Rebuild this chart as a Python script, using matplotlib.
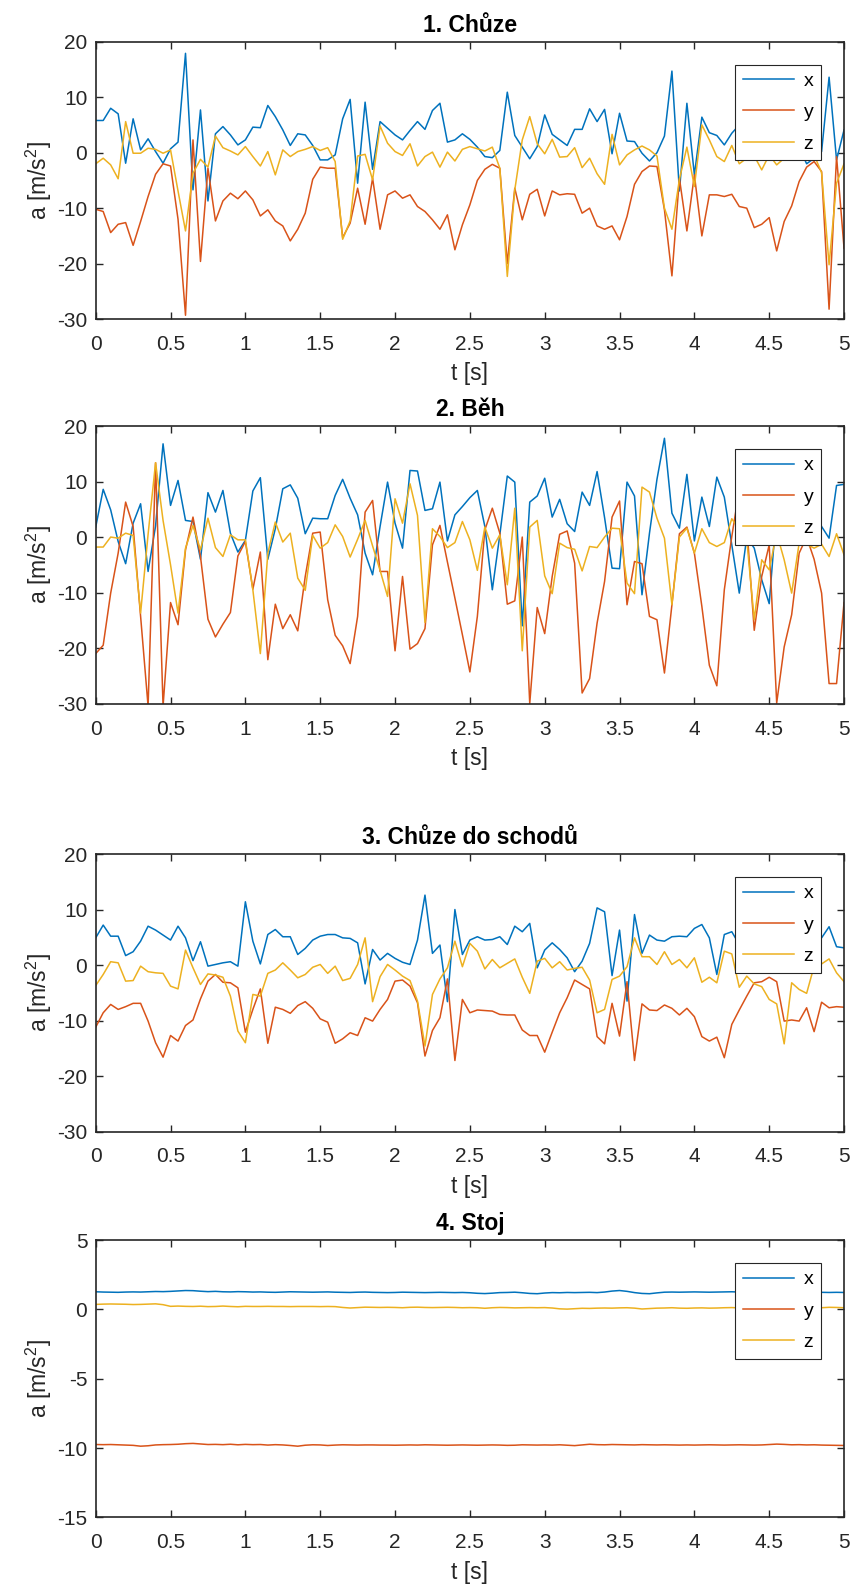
import numpy as np
import matplotlib.pyplot as plt

plt.rcParams['font.family'] = ['Liberation Sans', 'DejaVu Sans']
plt.rcParams['mathtext.default'] = 'regular'
plt.rcParams['axes.unicode_minus'] = False

# vzorkovani 20 Hz, 5 s
fs = 20
t = np.arange(101) / fs

# 1. Chuze
chuze_x = [5.8, 5.8, 8.0, 7.0, -1.9, 6.1, 0.5, 2.5, 0.2, -1.9,
           0.7, 1.9, 17.9, -6.7, 7.7, -8.7, 3.4, 4.7, 3.2, 1.4,
           2.3, 4.6, 4.5, 8.5, 6.5, 4.1, 1.3, 3.4, 3.2, 1.3,
           -1.3, -1.3, -0.4, 6.1, 9.6, -5.5, 9.1, -3.0, 5.6, 4.4,
           3.2, 2.3, 4.0, 5.6, 4.2, 7.6, 8.9, 1.9, 2.3, 3.4,
           2.4, 1.0, -0.7, -0.9, 0.4, 10.9, 3.1, 1.0, -1.1, 1.1,
           6.8, 3.3, 2.3, 1.3, 4.2, 4.2, 7.9, 5.6, 7.8, -0.2,
           7.1, 2.1, 2.0, -0.1, -1.5, 0.0, 3.0, 14.7, -6.9, 8.9,
           -4.0, 6.4, 3.6, 3.1, 1.4, 3.5, 5.0, 2.0, 4.0, 6.0,
           3.0, 5.0, 2.0, 4.5, 1.0, -2.0, -1.0, 0.2, 13.6, -1.3,
           4.1]
chuze_y = [-10.2, -10.6, -14.4, -12.9, -12.6, -16.7, -12.4, -7.9, -3.9, -2.0,
           -2.4, -12.0, -29.3, 2.3, -19.6, -2.8, -12.3, -8.7, -7.3, -8.3,
           -6.9, -8.5, -11.4, -10.3, -12.3, -13.2, -15.9, -13.8, -10.9, -4.8,
           -2.6, -2.8, -2.8, -15.3, -12.7, -6.4, -12.9, -4.6, -13.8, -7.6,
           -6.9, -8.2, -7.6, -9.7, -10.6, -12.1, -13.8, -11.2, -17.5, -13.0,
           -9.4, -5.0, -3.0, -2.1, -2.8, -20.0, -6.4, -12.1, -7.5, -6.6,
           -11.4, -6.9, -7.6, -7.4, -7.5, -10.9, -10.0, -13.2, -13.8, -13.2,
           -15.7, -11.5, -5.7, -3.4, -2.4, -2.5, -10.3, -22.2, -4.6, -14.1,
           -4.0, -15.0, -7.6, -7.6, -7.9, -7.5, -9.7, -10.0, -13.5, -12.9,
           -11.7, -17.7, -12.4, -9.6, -5.2, -2.6, -1.6, -3.4, -28.2, -0.7,
           -17.2]
chuze_z = [-2.0, -1.0, -2.2, -4.7, 5.6, -0.1, -0.1, 0.8, 0.6, -0.1,
           0.5, -6.9, -14.1, -3.7, -1.2, -2.6, 3.0, 0.9, 0.3, -0.4,
           1.1, -0.7, -2.4, 0.2, -4.0, 0.5, -0.7, 0.2, 0.6, 1.1,
           0.4, 0.9, -1.6, -15.6, -12.3, -0.6, -0.3, -4.9, 4.8, 1.7,
           0.2, -0.5, 1.6, -2.4, -0.7, 0.1, -2.6, 0.1, -1.5, 0.6,
           1.1, 0.7, 0.3, 1.0, -2.8, -22.3, -6.7, 2.3, 6.5, 1.6,
           -0.2, 2.4, -0.8, -0.7, 0.9, -2.7, -1.0, -3.8, -5.7, 3.3,
           -2.2, -0.4, 0.5, 1.2, 0.5, -0.6, -10.0, -13.8, -4.8, 1.0,
           -6.1, 5.0, 2.3, -0.7, -1.6, 1.3, -2.0, -1.0, -0.6, -3.1,
           -0.4, -2.2, -1.0, -0.1, -0.4, -0.1, -0.4, -3.6, -20.2, -5.5,
           -2.0]

# 2. Beh
beh_x = [1.8, 8.6, 4.9, -0.8, -4.8, 2.5, 6.0, -6.2, 2.0, 16.8,
         5.7, 10.2, 3.0, 2.8, -4.0, 8.0, 4.5, 8.4, 0.7, -2.7,
         -0.6, 8.3, 10.7, -4.0, 1.5, 8.7, 9.4, 7.0, 0.6, 3.4,
         3.3, 3.3, 7.5, 10.4, 7.0, 4.0, -2.9, -6.8, 1.9, 9.9,
         2.5, -2.0, 12.0, 11.9, 4.8, 5.1, 9.9, -0.7, 4.0, 5.5,
         7.1, 8.4, 1.9, -9.5, 0.4, 11.0, 9.9, -16.0, 6.3, 7.4,
         10.6, 3.6, 6.8, 2.4, 1.0, 8.1, 5.7, 11.8, 3.5, -5.6,
         -5.7, 9.9, 7.4, -10.4, 0.7, 10.4, 17.8, 4.3, 1.6, 11.3,
         -0.7, 7.2, 1.9, 10.8, 7.2, -1.4, -10.1, 0.0, -2.0, -7.7,
         -12.0, 5.0, 8.0, 4.0, 6.0, 3.0, 5.0, 1.9, -0.2, 9.3,
         9.5]
beh_y = [-21.0, -19.5, -10.1, -2.9, 6.3, 1.9, -14.3, -30.5, 13.4, -30.5,
         -11.8, -15.8, -2.3, 3.6, -3.5, -14.8, -18.0, -15.7, -13.6, -3.4,
         -0.8, -9.4, -2.7, -22.1, -12.1, -16.5, -14.0, -16.9, -7.1, 0.7,
         0.9, -11.3, -17.7, -19.6, -22.8, -14.3, 4.5, 6.6, -6.2, -6.2,
         -20.5, -7.1, -20.2, -19.2, -16.5, -1.4, 2.1, -4.5, -11.0, -17.6,
         -24.3, -14.3, 1.3, 5.2, 0.7, -12.1, -11.5, 0.0, -30.0, -12.7,
         -17.4, -7.1, 0.5, 1.1, -4.7, -28.1, -25.5, -15.5, -8.0, 3.6,
         6.5, -12.2, -4.4, -4.8, -14.3, -14.9, -24.5, -12.2, 0.6, 1.8,
         -2.9, -12.5, -23.1, -26.8, -9.5, 0.1, 8.6, 2.0, -16.8, -7.1,
         -1.4, -29.9, -19.8, -14.0, -2.9, 0.0, -4.0, -10.1, -26.4, -26.4,
         -11.8]
beh_z = [-1.8, -1.8, 0.0, -0.2, 0.7, 0.3, -13.7, 0.5, 13.4, 3.0,
         -5.0, -13.7, -2.0, 2.1, -2.3, 3.4, -1.9, -3.5, 0.4, -0.5,
         -0.5, -9.5, -21.0, -2.9, 2.7, -0.9, 0.7, -7.4, -9.6, 0.3,
         -2.0, -1.0, 2.2, 0.1, -3.6, -0.4, 3.0, -1.6, -6.0, -10.7,
         6.9, 2.5, 9.6, 3.9, -15.4, 1.5, 0.1, -1.9, -1.0, 2.8,
         -0.5, -6.0, 1.8, -2.0, 0.4, -8.6, 5.2, -20.5, 1.8, 3.0,
         -7.0, -10.2, -1.1, -1.9, -2.2, -6.1, -1.7, -1.9, 0.0, 1.6,
         1.5, -8.3, -10.2, 9.0, 8.1, 3.4, -0.2, -12.2, 0.0, 1.6,
         -2.9, 1.5, -1.0, -1.7, -1.0, 3.3, 1.3, -0.5, -14.9, -4.1,
         -5.9, 0.7, -4.1, -10.1, -1.1, -1.3, -2.0, -1.3, -3.5, 0.6,
         -3.2]

# 3. Chuze do schodu
schody_x = [4.9, 7.2, 5.2, 5.2, 1.7, 2.4, 4.3, 7.0, 6.3, 5.4,
            4.5, 7.0, 4.9, 0.8, 4.2, -0.2, 0.1, 0.4, 0.6, -0.2,
            11.4, 4.3, 0.2, 5.5, 6.4, 5.1, 5.1, 1.9, 3.0, 4.5,
            5.2, 5.5, 5.5, 4.9, 4.8, 4.0, -3.4, 2.8, 0.9, 2.1,
            1.2, 0.5, 0.1, 4.5, 12.6, 2.1, 3.6, -6.6, 10.0, 1.9,
            4.5, 5.1, 4.5, 4.6, 5.1, 3.7, 7.0, 6.0, 7.5, -0.5,
            2.7, 4.0, 2.8, 1.3, -1.2, 0.7, 3.9, 10.3, 9.6, -1.9,
            6.3, -6.5, 9.1, 2.1, 5.4, 4.5, 4.3, 5.1, 5.2, 5.1,
            6.6, 7.3, 4.9, -1.7, 5.5, 6.0, 3.7, 4.0, 5.0, 3.5,
            5.5, 4.0, 6.0, 3.0, 5.0, 4.5, 4.0, 4.9, 6.9, 3.3,
            3.1]
schody_y = [-11.2, -8.6, -7.1, -8.0, -7.5, -6.9, -6.9, -10.1, -14.0, -16.6,
            -12.7, -13.7, -10.9, -9.9, -6.1, -2.9, -1.7, -3.1, -3.2, -4.1,
            -12.1, -8.0, -4.3, -14.1, -7.6, -8.0, -8.7, -7.3, -6.6, -7.8,
            -9.7, -10.3, -14.1, -13.3, -12.2, -12.7, -9.5, -10.1, -8.0, -6.2,
            -2.9, -2.7, -3.8, -6.8, -16.4, -11.8, -9.5, -2.5, -17.2, -6.2,
            -8.6, -8.1, -8.2, -8.3, -8.9, -9.0, -9.0, -11.7, -12.7, -12.7,
            -15.7, -12.1, -8.6, -5.9, -2.7, -3.5, -4.3, -12.9, -14.2, -6.9,
            -12.8, -3.0, -17.2, -7.0, -8.1, -8.2, -7.2, -7.8, -9.0, -7.8,
            -9.3, -12.9, -13.7, -13.0, -16.7, -10.7, -8.1, -5.6, -3.2, -3.0,
            -2.2, -3.0, -10.1, -9.9, -10.1, -7.7, -12.0, -6.7, -7.7, -7.5,
            -7.6]
schody_z = [-3.7, -1.7, 0.6, 0.4, -2.9, -2.8, -0.2, -1.2, -1.4, -1.5,
            -3.8, -4.3, 2.7, -0.5, -3.5, -1.6, -1.8, -2.2, -5.6, -11.9,
            -14.0, -5.3, -5.6, -1.5, -0.9, 0.4, -0.9, -2.3, -1.7, -0.4,
            0.1, -1.5, -0.2, -2.8, -2.4, 0.1, 4.9, -6.6, -2.1, 0.1,
            -0.9, -2.0, -2.8, -6.5, -14.6, -5.3, -2.5, -0.5, 4.3, -0.3,
            3.9, 2.5, -0.7, 1.0, -0.5, 0.3, 1.1, -2.2, -5.1, 0.7,
            1.2, -0.5, 0.6, -0.9, -0.6, -0.4, -2.7, -8.6, -8.0, -2.6,
            -2.0, -0.3, 4.9, 1.5, 1.5, 0.1, 2.4, 0.1, 1.0, -0.5,
            1.3, -3.1, -2.2, -3.2, 2.5, 2.0, -4.0, -2.0, -3.4, -3.9,
            -6.2, -7.0, -14.2, -3.2, -4.4, -5.1, -0.2, 0.2, 1.1, -1.4,
            -3.0]

# 4. Stoj
stoj_x = [1.27, 1.25, 1.24, 1.23, 1.25, 1.26, 1.25, 1.27, 1.29, 1.28,
          1.30, 1.33, 1.36, 1.35, 1.31, 1.28, 1.30, 1.27, 1.26, 1.28,
          1.27, 1.25, 1.26, 1.24, 1.23, 1.25, 1.27, 1.26, 1.25, 1.24,
          1.25, 1.26, 1.24, 1.23, 1.22, 1.24, 1.25, 1.23, 1.22, 1.21,
          1.22, 1.24, 1.23, 1.22, 1.21, 1.22, 1.23, 1.22, 1.21, 1.22,
          1.20, 1.16, 1.14, 1.17, 1.21, 1.22, 1.24, 1.20, 1.15, 1.13,
          1.18, 1.21, 1.20, 1.22, 1.21, 1.22, 1.23, 1.21, 1.25, 1.32,
          1.36, 1.30, 1.21, 1.15, 1.13, 1.19, 1.24, 1.25, 1.24, 1.25,
          1.26, 1.25, 1.24, 1.25, 1.26, 1.27, 1.25, 1.24, 1.22, 1.23,
          1.24, 1.26, 1.25, 1.24, 1.23, 1.25, 1.24, 1.23, 1.22, 1.23,
          1.22]
stoj_y = [-9.74, -9.75, -9.74, -9.76, -9.78, -9.80, -9.86, -9.83, -9.77, -9.75,
          -9.74, -9.72, -9.68, -9.66, -9.70, -9.74, -9.73, -9.75, -9.72, -9.76,
          -9.73, -9.75, -9.74, -9.78, -9.75, -9.77, -9.81, -9.86, -9.79, -9.76,
          -9.77, -9.81, -9.78, -9.76, -9.77, -9.78, -9.77, -9.77, -9.78, -9.78,
          -9.79, -9.78, -9.77, -9.78, -9.76, -9.77, -9.78, -9.79, -9.78, -9.77,
          -9.78, -9.79, -9.78, -9.77, -9.78, -9.80, -9.79, -9.76, -9.77, -9.78,
          -9.77, -9.78, -9.76, -9.79, -9.82, -9.77, -9.72, -9.75, -9.76, -9.74,
          -9.75, -9.76, -9.77, -9.75, -9.76, -9.77, -9.76, -9.77, -9.78, -9.77,
          -9.78, -9.77, -9.76, -9.77, -9.78, -9.77, -9.76, -9.77, -9.78, -9.77,
          -9.74, -9.71, -9.73, -9.76, -9.75, -9.77, -9.76, -9.78, -9.79, -9.80,
          -9.81]
stoj_z = [0.36, 0.38, 0.39, 0.38, 0.37, 0.35, 0.36, 0.38, 0.40, 0.34,
          0.22, 0.24, 0.22, 0.21, 0.23, 0.20, 0.21, 0.24, 0.21, 0.19,
          0.22, 0.21, 0.21, 0.22, 0.21, 0.21, 0.20, 0.21, 0.21, 0.21,
          0.20, 0.21, 0.20, 0.14, 0.10, 0.13, 0.16, 0.15, 0.14, 0.15,
          0.14, 0.12, 0.15, 0.16, 0.14, 0.13, 0.14, 0.15, 0.14, 0.12,
          0.13, 0.12, 0.08, 0.12, 0.14, 0.13, 0.11, 0.12, 0.13, 0.12,
          0.13, 0.10, 0.04, 0.02, 0.05, 0.08, 0.07, 0.09, 0.10, 0.09,
          0.11, 0.12, 0.09, 0.03, 0.06, 0.09, 0.10, 0.12, 0.09, 0.08,
          0.10, 0.11, 0.09, 0.10, 0.12, 0.13, 0.11, 0.10, 0.09, 0.10,
          0.11, 0.10, 0.09, 0.12, 0.13, 0.14, 0.13, 0.12, 0.15, 0.14,
          0.12]

titles = ['1. Chůze', '2. Běh', '3. Chůze do schodů', '4. Stoj']
series = [(chuze_x, chuze_y, chuze_z), (beh_x, beh_y, beh_z),
          (schody_x, schody_y, schody_z), (stoj_x, stoj_y, stoj_z)]
ylims = [(-30, 20), (-30, 20), (-30, 20), (-15, 5)]
ysteps = [10, 10, 10, 5]

colors = ['#0072BD', '#D95319', '#EDB120']
names = ['x', 'y', 'z']
dark = '#262626'

fig = plt.figure(figsize=(8.53, 15.91), dpi=100)
bottoms = [0.7994, 0.5578, 0.2888, 0.0462]

for k in range(4):
    ax = fig.add_axes([0.1122, bottoms[k], 0.8773, 0.1744])
    for data, c, n in zip(series[k], colors, names):
        ax.plot(t, data, color=c, lw=1.1, label=n)
    ax.set_xlim(0, 5)
    ax.set_ylim(*ylims[k])
    xt = np.arange(0, 5.01, 0.5)
    ax.set_xticks(xt)
    ax.set_xticklabels(['%g' % v for v in xt])
    ax.set_yticks(np.arange(ylims[k][0], ylims[k][1] + 0.1, ysteps[k]))
    ax.tick_params(direction='in', top=True, right=True, length=5, width=1.0,
                   labelsize=15, colors=dark, pad=6)
    ax.tick_params(axis='x', pad=11.5)
    for s in ax.spines.values():
        s.set_linewidth(1.2)
        s.set_color(dark)
    ax.set_title(titles[k], fontsize=16.5, fontweight='bold', pad=7)
    ax.set_xlabel('t [s]', fontsize=16.5, color=dark, labelpad=6)
    ax.set_ylabel('a [m/s$^2$]', fontsize=16.5, color=dark, labelpad=2)
    leg = ax.legend(loc='upper right', bbox_to_anchor=(1 - 23 / 748, 1 - 23 / 277.5),
                    borderaxespad=0, fontsize=14, handlelength=2.6,
                    fancybox=False, edgecolor=dark, framealpha=1,
                    labelspacing=0.7, borderpad=0.4, handletextpad=0.5)
    leg.get_frame().set_linewidth(0.8)

fig.savefig('out.png', dpi=100)
